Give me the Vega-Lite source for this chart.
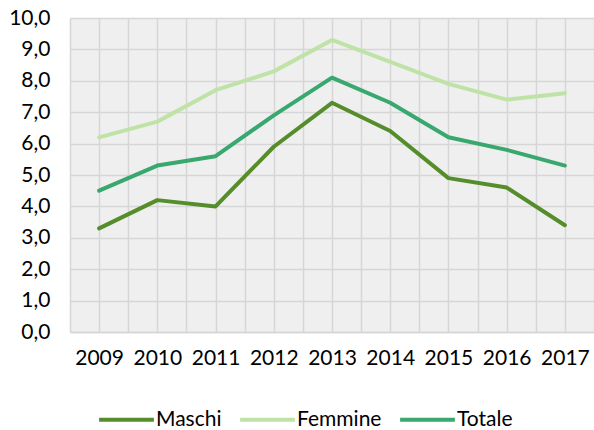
{
  "$schema": "https://vega.github.io/schema/vega-lite/v6.json",
  "autosize": "none",
  "width": 524,
  "height": 314,
  "padding": {"left": 70, "top": 18, "right": 0, "bottom": 98},
  "background": "white",
  "config": {
    "view": {"stroke": null, "fill": "#efefef"},
    "font": "Lato"
  },
  "data": {
    "values": [
      {"anno": 2009, "serie": "Maschi", "valore": 3.3},
      {"anno": 2010, "serie": "Maschi", "valore": 4.2},
      {"anno": 2011, "serie": "Maschi", "valore": 4.0},
      {"anno": 2012, "serie": "Maschi", "valore": 5.9},
      {"anno": 2013, "serie": "Maschi", "valore": 7.3},
      {"anno": 2014, "serie": "Maschi", "valore": 6.4},
      {"anno": 2015, "serie": "Maschi", "valore": 4.9},
      {"anno": 2016, "serie": "Maschi", "valore": 4.6},
      {"anno": 2017, "serie": "Maschi", "valore": 3.4},
      {"anno": 2009, "serie": "Femmine", "valore": 6.2},
      {"anno": 2010, "serie": "Femmine", "valore": 6.7},
      {"anno": 2011, "serie": "Femmine", "valore": 7.7},
      {"anno": 2012, "serie": "Femmine", "valore": 8.3},
      {"anno": 2013, "serie": "Femmine", "valore": 9.3},
      {"anno": 2014, "serie": "Femmine", "valore": 8.6},
      {"anno": 2015, "serie": "Femmine", "valore": 7.9},
      {"anno": 2016, "serie": "Femmine", "valore": 7.4},
      {"anno": 2017, "serie": "Femmine", "valore": 7.6},
      {"anno": 2009, "serie": "Totale", "valore": 4.5},
      {"anno": 2010, "serie": "Totale", "valore": 5.3},
      {"anno": 2011, "serie": "Totale", "valore": 5.6},
      {"anno": 2012, "serie": "Totale", "valore": 6.9},
      {"anno": 2013, "serie": "Totale", "valore": 8.1},
      {"anno": 2014, "serie": "Totale", "valore": 7.3},
      {"anno": 2015, "serie": "Totale", "valore": 6.2},
      {"anno": 2016, "serie": "Totale", "valore": 5.8},
      {"anno": 2017, "serie": "Totale", "valore": 5.3}
    ]
  },
  "mark": {"type": "line", "strokeWidth": 4, "strokeCap": "round", "strokeJoin": "round"},
  "encoding": {
    "x": {
      "field": "anno",
      "type": "quantitative",
      "scale": {"domain": [2008.5, 2017.5], "nice": false, "zero": false},
      "axis": {
        "title": null,
        "values": [2008.5, 2009, 2009.5, 2010, 2010.5, 2011, 2011.5, 2012, 2012.5, 2013, 2013.5, 2014, 2014.5, 2015, 2015.5, 2016, 2016.5, 2017, 2017.5],
        "labelExpr": "datum.value % 1 === 0 ? '' + datum.value : ''",
        "grid": true,
        "gridColor": "#d6d6d6",
        "gridWidth": 1.5,
        "ticks": false,
        "domain": true,
        "domainColor": "#d6d6d6",
        "domainWidth": 1.5,
        "labelPadding": 15,
        "labelFontSize": 21,
        "labelColor": "#000000",
        "labelFont": "Lato",
        "labelFlush": false,
        "labelOverlap": false
      }
    },
    "y": {
      "field": "valore",
      "type": "quantitative",
      "scale": {"domain": [0, 10], "nice": false},
      "axis": {
        "title": null,
        "values": [0, 1, 2, 3, 4, 5, 6, 7, 8, 9, 10],
        "labelExpr": "replace(format(datum.value, '.1f'), '.', ',')",
        "grid": true,
        "gridColor": "#d6d6d6",
        "gridWidth": 1.5,
        "ticks": false,
        "domain": false,
        "labelPadding": 20,
        "labelFontSize": 21,
        "labelColor": "#000000",
        "labelFont": "Lato"
      }
    },
    "color": {
      "field": "serie",
      "type": "nominal",
      "scale": {
        "domain": ["Maschi", "Femmine", "Totale"],
        "range": ["#558d2a", "#bfe3a7", "#38a86e"]
      },
      "legend": {
        "title": null,
        "orient": "none",
        "direction": "horizontal",
        "legendX": 27,
        "legendY": 372,
        "symbolType": "stroke",
        "symbolSize": 3000,
        "symbolStrokeWidth": 4,
        "labelFontSize": 21,
        "labelColor": "#000000",
        "labelFont": "Lato",
        "labelOffset": 0,
        "columnPadding": 10
      }
    }
  }
}
